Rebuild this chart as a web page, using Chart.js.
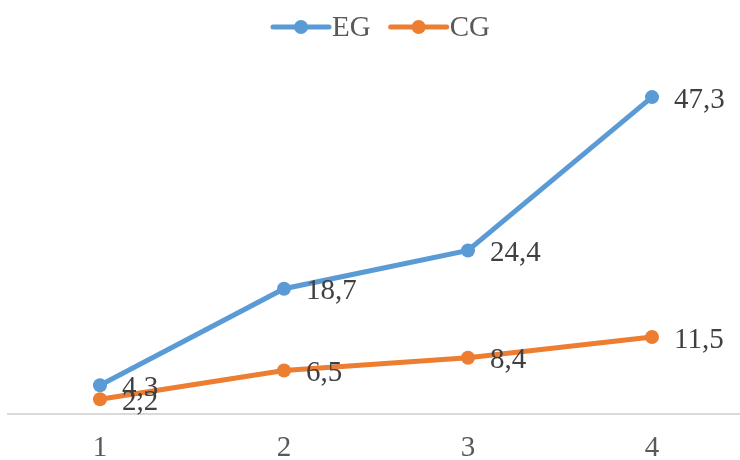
<!DOCTYPE html>
<html>
<head>
<meta charset="utf-8">
<script src="https://cdn.jsdelivr.net/npm/chart.js@4/dist/chart.umd.min.js"></script>
<style>
  html, body { margin: 0; padding: 0; background: #ffffff; overflow: hidden; }
  #c { display: block; width: 751px; height: 460px; }
</style>
</head>
<body>
<canvas id="c" width="751" height="460"></canvas>
<script>
// Sessions and the two groups' values
const categories = ['1', '2', '3', '4'];
const egValues = [4.3, 18.7, 24.4, 47.3];
const cgValues = [2.2, 6.5, 8.4, 11.5];
const seriesNames = ['EG', 'CG'];

const BLUE = '#5B9BD5';
const ORANGE = '#ED7D31';
const FONT = '"Liberation Serif", "Times New Roman", serif';
const TEXT_SIZE = 29;

// Value labels to the right of each point, decimal comma
const valueLabels = {
  id: 'valueLabels',
  afterDatasetsDraw(chart) {
    const ctx = chart.ctx;
    ctx.save();
    ctx.font = TEXT_SIZE + 'px ' + FONT;
    ctx.fillStyle = '#404040';
    ctx.textAlign = 'left';
    ctx.textBaseline = 'middle';
    chart.data.datasets.forEach((ds, i) => {
      const meta = chart.getDatasetMeta(i);
      meta.data.forEach((pt, j) => {
        const txt = String(ds.data[j]).replace('.', ',');
        ctx.fillText(txt, pt.x + 22, pt.y + 3);
      });
    });
    ctx.restore();
  }
};

// Legend with line-and-marker swatches above the plot
const lineLegend = {
  id: 'lineLegend',
  afterDraw(chart) {
    const ctx = chart.ctx;
    ctx.save();
    ctx.font = TEXT_SIZE + 'px ' + FONT;
    ctx.textBaseline = 'middle';
    let x = 273;
    const y = 27;
    chart.data.datasets.forEach((ds) => {
      ctx.strokeStyle = ds.borderColor;
      ctx.lineWidth = 5;
      ctx.lineCap = 'round';
      ctx.beginPath();
      ctx.moveTo(x, y);
      ctx.lineTo(x + 56, y);
      ctx.stroke();
      ctx.fillStyle = ds.borderColor;
      ctx.beginPath();
      ctx.arc(x + 28, y, 7, 0, Math.PI * 2);
      ctx.fill();
      ctx.fillStyle = '#595959';
      ctx.textAlign = 'left';
      ctx.fillText(ds.label, x + 59, y + 1);
      x += 59 + ctx.measureText(ds.label).width + 20;
    });
    ctx.restore();
  }
};

new Chart(document.getElementById('c'), {
  type: 'line',
  data: {
    labels: categories,
    datasets: [
      {
        label: seriesNames[0],
        data: egValues,
        borderColor: BLUE,
        backgroundColor: BLUE,
        borderWidth: 5,
        pointRadius: 7,
        pointHoverRadius: 7,
        pointBorderWidth: 0,
        tension: 0,
        order: 1
      },
      {
        label: seriesNames[1],
        data: cgValues,
        borderColor: ORANGE,
        backgroundColor: ORANGE,
        borderWidth: 5,
        pointRadius: 7,
        pointHoverRadius: 7,
        pointBorderWidth: 0,
        tension: 0,
        order: 0
      }
    ]
  },
  options: {
    responsive: false,
    animation: false,
    layout: { padding: { top: 79, left: 8, right: 0, bottom: 0 } },
    plugins: {
      legend: { display: false },
      tooltip: { enabled: false }
    },
    scales: {
      x: {
        offset: true,
        grid: { display: false, drawTicks: false },
        border: { display: true, color: '#d9d9d9', width: 2 },
        ticks: {
          color: '#595959',
          font: { family: FONT, size: TEXT_SIZE },
          padding: 17
        },
        afterFit(scale) {
          scale.height = 46;
          scale.paddingLeft = 0;
          scale.paddingRight = 0;
        }
      },
      y: {
        display: false,
        min: 0,
        max: 50
      }
    }
  },
  plugins: [valueLabels, lineLegend]
});
</script>
</body>
</html>
